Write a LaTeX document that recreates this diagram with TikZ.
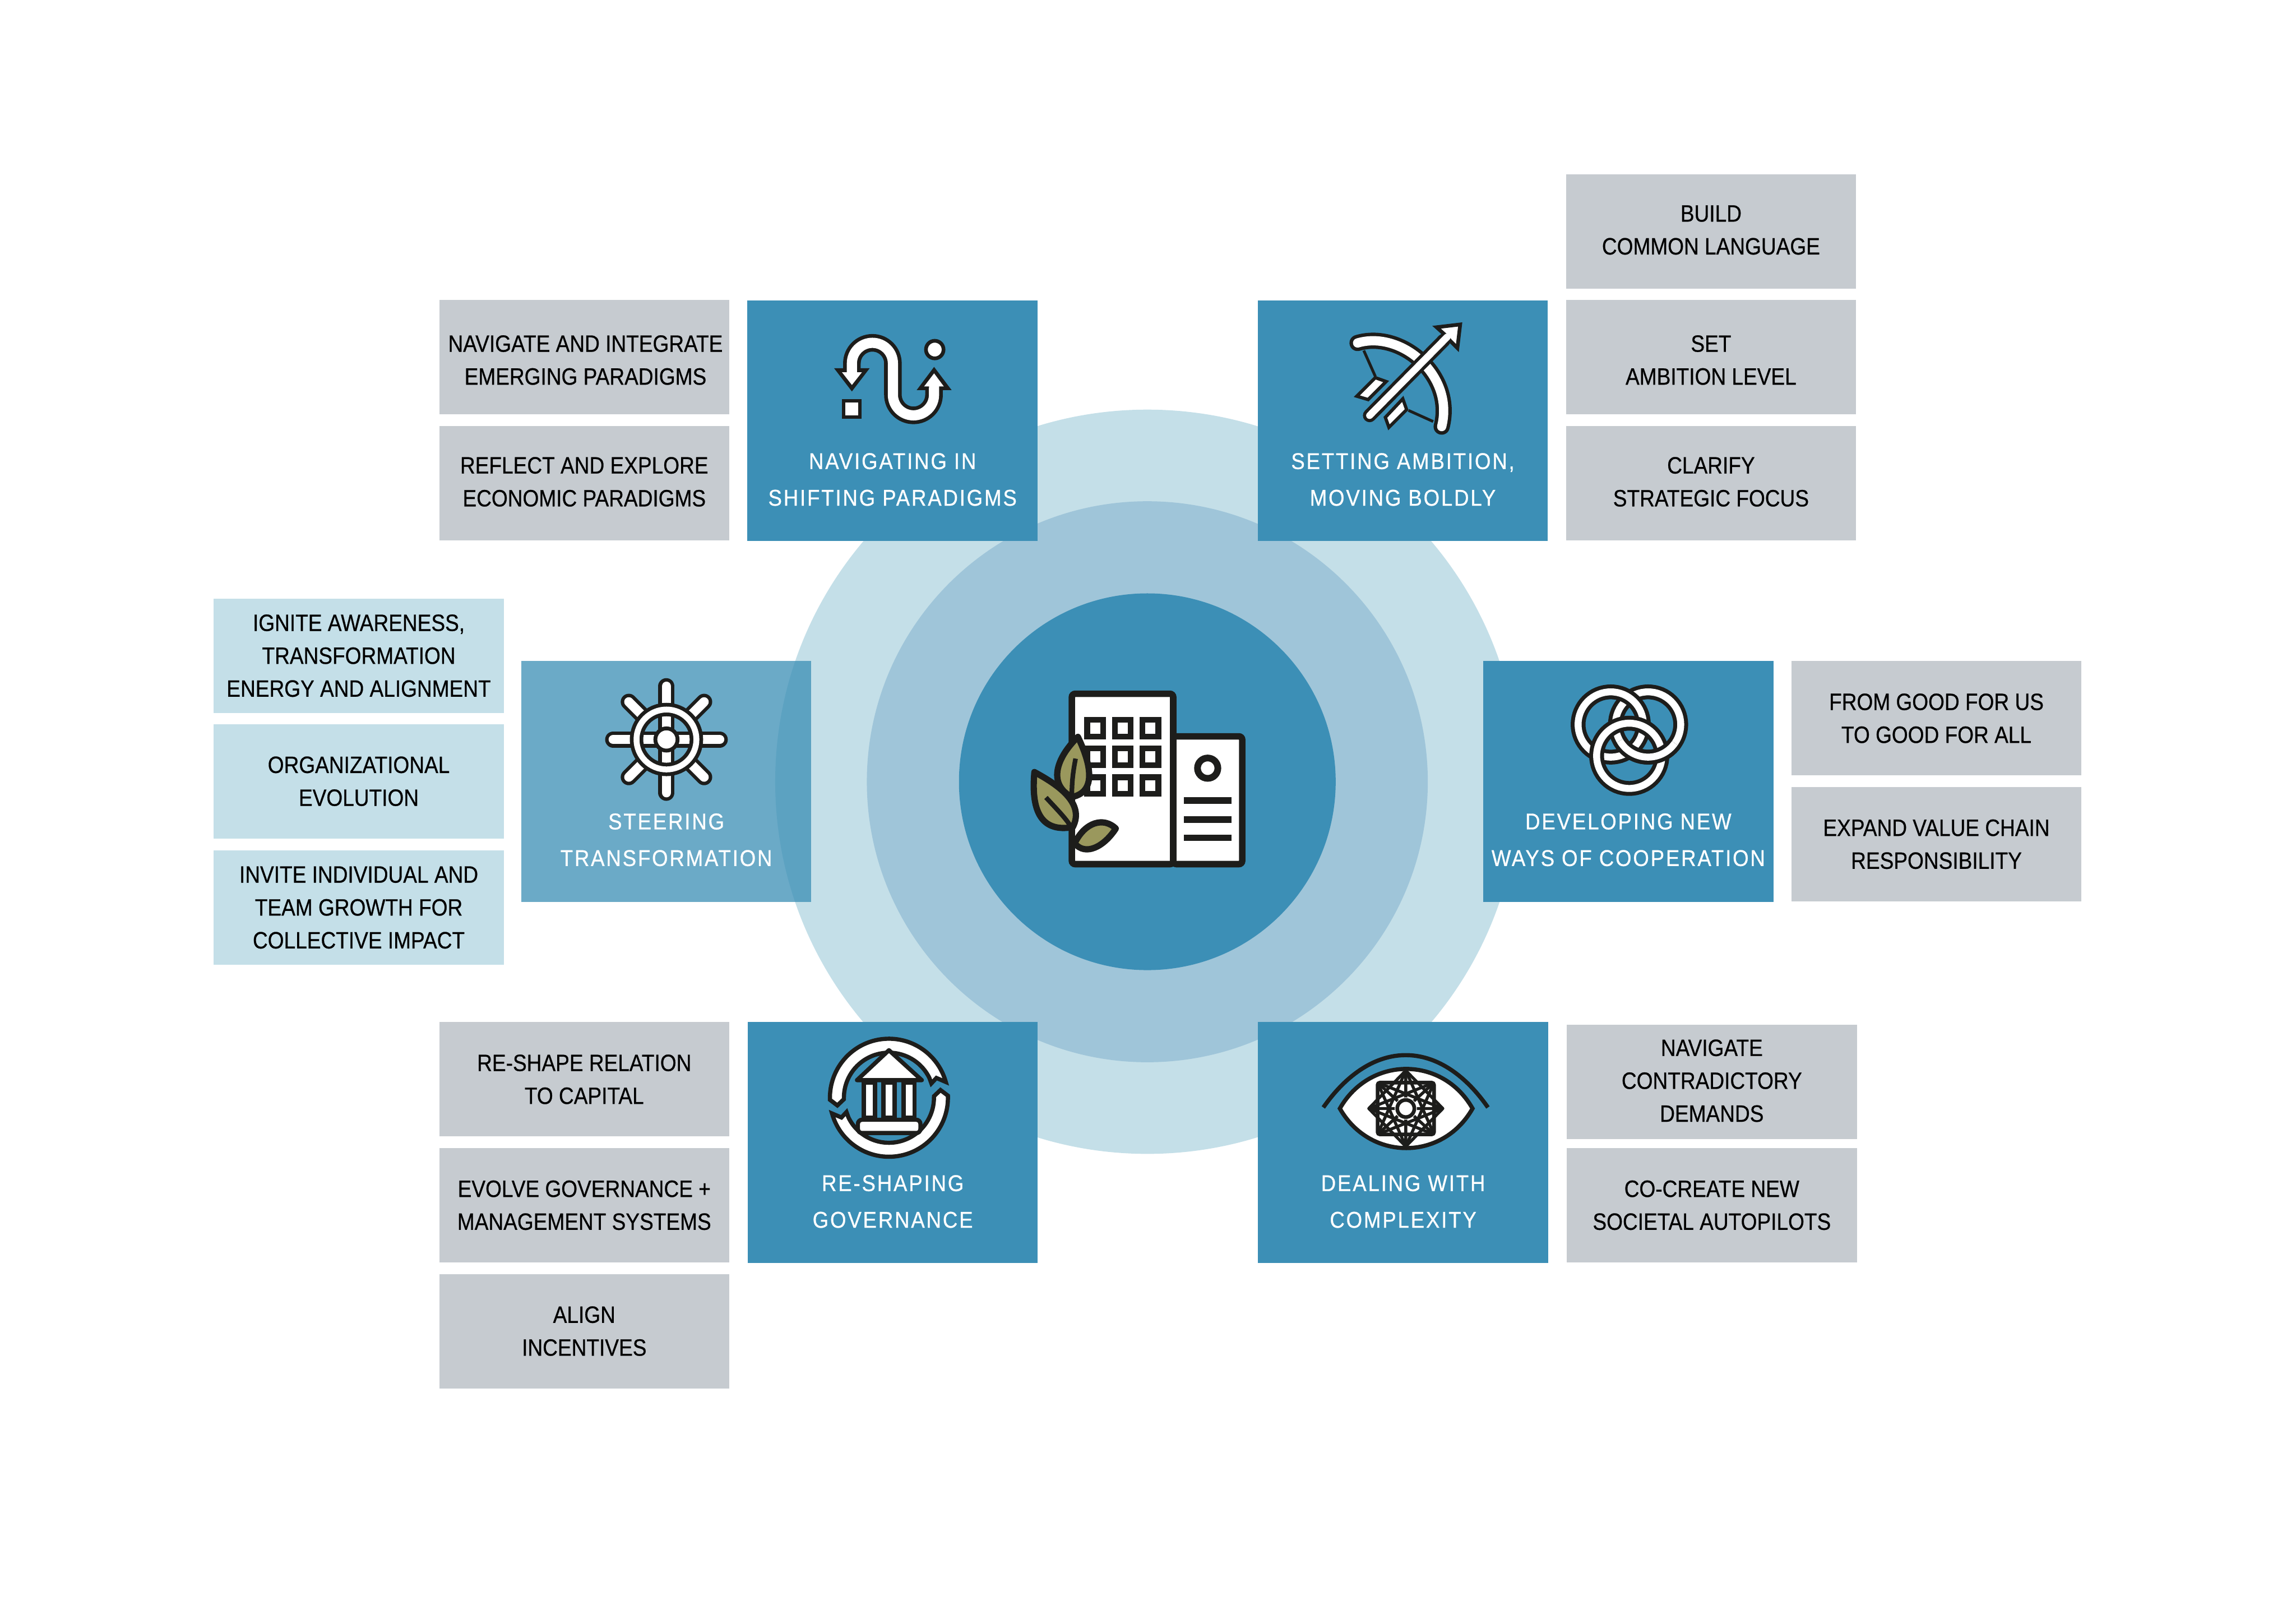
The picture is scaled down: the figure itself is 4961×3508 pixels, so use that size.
\documentclass[tikz,border=0pt]{standalone}
\usepackage{fontspec}
\usepackage{xcolor}
\usepackage{tikz}
\usetikzlibrary{positioning}
\setmainfont{Liberation Sans}
\newfontfamily\boxfont[FakeStretch=0.88,FakeBold=0.6]{Liberation Sans}
\newfontfamily\catfont[FakeStretch=0.9,LetterSpace=7,FakeBold=0.7]{Liberation Sans}
\definecolor{mainblue}{HTML}{3C8FB6}
\definecolor{midblue}{HTML}{9FC5D9}
\definecolor{paleblue}{HTML}{C4DFE8}
\definecolor{boxgrey}{HTML}{C6CBD0}
\definecolor{iconblack}{HTML}{1D1D1B}
\definecolor{leafgreen}{HTML}{9A985D}
\tikzset{
    catbox/.style={fill=mainblue, minimum width=6.265cm, minimum height=5.2cm, inner sep=0pt},
    cattext/.style={text=white, align=center, inner sep=0pt, font=\catfont\fontsize{14}{22.5}\selectfont},
    greybox/.style={fill=boxgrey, minimum width=6.265cm, minimum height=2.47cm, inner sep=0pt, align=center, font=\boxfont\fontsize{14.5}{20.2}\selectfont, text=black},
    palebox/.style={greybox, fill=paleblue},
    boxtext/.style={greybox, fill=none, minimum height=0pt},
    icon/.style={draw=iconblack, fill=white, line width=0.09cm},
    leaf/.style={draw=iconblack, fill=leafgreen, line width=0.135cm, line join=round}
}
\begin{document}
\begin{tikzpicture}[x=0.01cm,y=-0.01cm]
    \useasboundingbox (0,0) rectangle (4961,3508);

    % Rings
    \coordinate (hub) at (2479,1689);
    \fill[paleblue] (hub) circle (804);
    \fill[midblue] (hub) circle (606);
    \fill[mainblue] (hub) circle (407);

    % Category boxes
    \node[catbox] (navigating) at (1928.4,908.8) {};
    \node[catbox] (ambition) at (3031,908.8) {};
    \node[catbox, fill opacity=0.76] (steering) at (1439.6,1688) {};
    \node[catbox] (cooperation) at (3518.3,1688) {};
    \node[catbox] (governance) at (1929,2468) {};
    \node[catbox] (complexity) at (3031.7,2468) {};

    \node[cattext] (navigatingtext) at (1928.4,1036) {NAVIGATING IN\\SHIFTING PARADIGMS};
    \node[cattext] (ambitiontext) at (3031,1036) {SETTING AMBITION,\\MOVING BOLDLY};
    \node[cattext] (steeringtext) at (1439.6,1814.5) {STEERING\\TRANSFORMATION};
    \node[cattext] (cooperationtext) at (3518.3,1814.5) {DEVELOPING NEW\\WAYS OF COOPERATION};
    \node[cattext] (governancetext) at (1929,2596) {RE-SHAPING\\GOVERNANCE};
    \node[cattext] (complexitytext) at (3031.7,2596) {DEALING WITH\\COMPLEXITY};

    % Side boxes
    \node[greybox] (language) at (3697,500) {};
    \node[boxtext] (languagetext) at (3697,497) {BUILD\\COMMON LANGUAGE};
    \node[greybox] (level) at (3697,772) {};
    \node[boxtext] (leveltext) at (3697,778) {SET\\AMBITION LEVEL};
    \node[greybox] (focus) at (3697,1044) {};
    \node[boxtext] (focustext) at (3697,1041) {CLARIFY\\STRATEGIC FOCUS};
    \node[greybox] (emerging) at (1262.4,772) {};
    \node[boxtext] (emergingtext) at (1265,778) {NAVIGATE AND INTEGRATE\\EMERGING PARADIGMS};
    \node[greybox] (economic) at (1262.4,1044) {};
    \node[boxtext] (economictext) at (1262.4,1041) {REFLECT AND EXPLORE\\ECONOMIC PARADIGMS};
    \node[palebox] (awareness) at (775.2,1416.7) {IGNITE AWARENESS,\\TRANSFORMATION\\ENERGY AND ALIGNMENT};
    \node[palebox] (evolution) at (775.2,1688) {ORGANIZATIONAL\\EVOLUTION};
    \node[palebox] (growth) at (775.2,1960.8) {INVITE INDIVIDUAL AND\\TEAM GROWTH FOR\\COLLECTIVE IMPACT};
    \node[greybox] (goodforall) at (4184,1552) {FROM GOOD FOR US\\TO GOOD FOR ALL};
    \node[greybox] (valuechain) at (4184,1824) {EXPAND VALUE CHAIN\\RESPONSIBILITY};
    \node[greybox] (capital) at (1262.4,2332) {RE-SHAPE RELATION\\TO CAPITAL};
    \node[greybox] (systems) at (1262.4,2604) {EVOLVE GOVERNANCE +\\MANAGEMENT SYSTEMS};
    \node[greybox] (incentives) at (1262.4,2876) {ALIGN\\INCENTIVES};
    \node[greybox] (demands) at (3698.7,2338) {};
    \node[boxtext] (demandstext) at (3698.7,2335) {NAVIGATE\\CONTRADICTORY\\DEMANDS};
    \node[greybox] (autopilots) at (3698.7,2604) {CO-CREATE NEW\\SOCIETAL AUTOPILOTS};

    % Building
    \draw[icon, line width=0.14cm, rounded corners=2pt] (2316,1499) rectangle (2535,1867);
    \draw[icon, line width=0.14cm, rounded corners=2pt] (2535,1591) rectangle (2684,1867);
    \foreach \i in {0,1,2}
        \foreach \j in {0,1,2}
            \draw[icon, line width=0.125cm] (2349+59.7*\i,1555.3+62*\j) rectangle ++(34.4,36);
    \draw[icon, line width=0.145cm] (2609.4,1659.7) circle (22);
    \foreach \y in {1722,1763.5,1803}
        \fill[iconblack] (2557.5,\y) rectangle (2660.8,\y+14.3);

    % Leaves
    \draw[leaf] (2329,1592) .. controls (2280,1640) and (2265,1695) .. (2316,1722)
        .. controls (2375,1710) and (2352,1640) .. cycle;
    \draw[iconblack, line width=0.1cm] (2324,1639) .. controls (2318,1670) and (2316,1690) .. (2316,1717);
    \draw[leaf] (2235,1668) .. controls (2228,1745) and (2245,1800) .. (2318,1787)
        .. controls (2345,1735) and (2285,1695) .. cycle;
    \draw[iconblack, line width=0.1cm] (2260,1723) .. controls (2285,1750) and (2300,1765) .. (2312,1783);
    \draw[leaf] (2322,1822) .. controls (2345,1775) and (2385,1765) .. (2411,1790)
        .. controls (2385,1830) and (2345,1850) .. cycle;

    % Winding arrow
    \draw[iconblack, line width=0.38cm] (1840.7,805) -- (1840.7,785) arc (180:360:44.3) -- (1929.3,853)
        arc (180:0:44.4) -- (2018.3,825);
    \fill[iconblack] (1802.3,795.7) -- (1879,795.7) -- (1840.7,845.7) -- cycle;
    \fill[iconblack] (2018.3,792.7) -- (1980.7,842.7) -- (2056,842.7) -- cycle;
    \draw[white, line width=0.22cm] (1840.7,805) -- (1840.7,785) arc (180:360:44.3) -- (1929.3,853)
        arc (180:0:44.4) -- (2018.3,825);
    \fill[white] (1819.3,804.3) -- (1862.3,804.3) -- (1840.7,831.7) -- cycle;
    \fill[white] (2018.3,806.7) -- (1996.7,835) -- (2039.3,835) -- cycle;
    \draw[icon, line width=0.08cm] (1823,866) rectangle (1857.7,901.3);
    \draw[icon, line width=0.08cm] (2019.7,755.3) circle (19);

    % Bow
    \foreach \w/\c in {0.35/iconblack,0.2/white}
        \draw[line width=\w cm, \c, line cap=round] (2933.3,741) .. controls (3026.7,713.3) and (3143.3,810) .. (3115,921.7);
    \draw[iconblack, line width=0.06cm] (2946.7,757.3) -- (2971.7,813.3);
    \draw[iconblack, line width=0.06cm] (3043.3,886.7) -- (3096.7,910.7);
    \draw[icon, line width=0.07cm] (2971.7,816) -- (2995,824.3) -- (2956,863.3) -- (2931.7,856) -- cycle;
    \draw[icon, line width=0.07cm] (3031,861.7) -- (3039.3,885) -- (3001,923.3) -- (2993.3,901.7) -- cycle;
    \draw[iconblack, line width=0.29cm, line cap=round] (2959.3,897.7) -- (3120,735);
    \draw[icon, line width=0.08cm] (3155,701) -- (3104,707) -- (3124,725) -- (3134,737) -- (3149,752) -- cycle;
    \draw[white, line width=0.15cm, line cap=round] (2959.3,897.7) -- (3126.7,728.3);

    % Wheel
    \coordinate (wheel) at (1440,1597.7);
    \foreach \w/\c in {0.35/iconblack,0.2/white} {
        \foreach \a in {0,90,180,270}
            \draw[line width=\w cm, \c, line cap=round] (wheel) -- ++(\a:115);
        \foreach \a in {45,135,225,315}
            \draw[line width=\w cm, \c, line cap=round] (wheel) ++(\a:75) -- ++(\a:40);
    }
    \draw[iconblack, line width=0.29cm] (wheel) circle (64.7);
    \draw[white, line width=0.127cm] (wheel) circle (64.7);
    \draw[icon, line width=0.083cm] (wheel) circle (24);

    % Linked rings
    \coordinate (ringa) at (3480.3,1565.3);
    \coordinate (ringb) at (3561,1565.3);
    \coordinate (ringc) at (3520.3,1633);
    \foreach \r in {ringb,ringa,ringc} {
        \draw[iconblack, line width=0.32cm] (\r) circle (70.5);
        \draw[white, line width=0.15cm] (\r) circle (70.5);
    }
    \draw[iconblack, line width=0.32cm] (ringb) ++(35:70.5) arc (35:150:70.5);
    \draw[white, line width=0.15cm] (ringb) ++(35:70.5) arc (35:150:70.5);

    % Temple
    \foreach \r in {0,180} {
        \begin{scope}[shift={(1920.7,2371.7)}, rotate=\r]
            \draw[icon] (178:127.5) arc (178:344.5:127.5) -- (102.6,-42.7) -- (91.7,-31) -- (334:97.3)
                arc (334:183:97.3) -- (-97.4,3.3) -- (-111.4,16.6) -- cycle;
        \end{scope}
    }
    \draw[icon, line join=round] (1920.7,2269) -- (1991.7,2333.7) -- (1851.7,2333.7) -- cycle;
    \foreach \x in {1878.3,1921,1964}
        \draw[icon, line width=0.093cm] (\x-12,2339) rectangle (\x+12,2415);
    \draw[icon, rounded corners=2.5pt] (1853.7,2419.3) rectangle (1988.7,2448);

    % Eye
    \draw[iconblack, line width=0.09cm] (2859.3,2392.7) .. controls (2965,2242) and (3110,2242) .. (3215,2392.7);
    \draw[icon] (2895,2395) .. controls (2960,2281) and (3117,2281) .. (3181.7,2395)
        .. controls (3117,2509) and (2960,2509) .. cycle;
    \begin{scope}[shift={(3037.5,2395)}]
        \coordinate (p0) at (80,0);
        \coordinate (p1) at (61,56);
        \coordinate (p2) at (0,82);
        \coordinate (p3) at (-61,56);
        \coordinate (p4) at (-80,0);
        \coordinate (p5) at (-61,-56);
        \coordinate (p6) at (0,-82);
        \coordinate (p7) at (61,-56);
        \draw[iconblack, line width=0.08cm, rounded corners=1.5pt] (p1) -- (p3) -- (p5) -- (p7) -- cycle;
        \draw[iconblack, line width=0.065cm, line join=round] (p0) -- (p2) -- (p4) -- (p6) -- cycle;
        \draw[iconblack, line width=0.065cm] (p0) -- (p4) (p2) -- (p6) (p1) -- (p5) (p3) -- (p7);
        \foreach \k [evaluate=\k as \n using {int(mod(\k+3,8))}] in {0,...,7}
            \draw[iconblack, line width=0.065cm] (p\k) -- (p\n);
        \fill[white] (0,0) circle (24);
        \draw[icon, line width=0.08cm] (0,0) circle (18.5);
    \end{scope}
\end{tikzpicture}
\end{document}
